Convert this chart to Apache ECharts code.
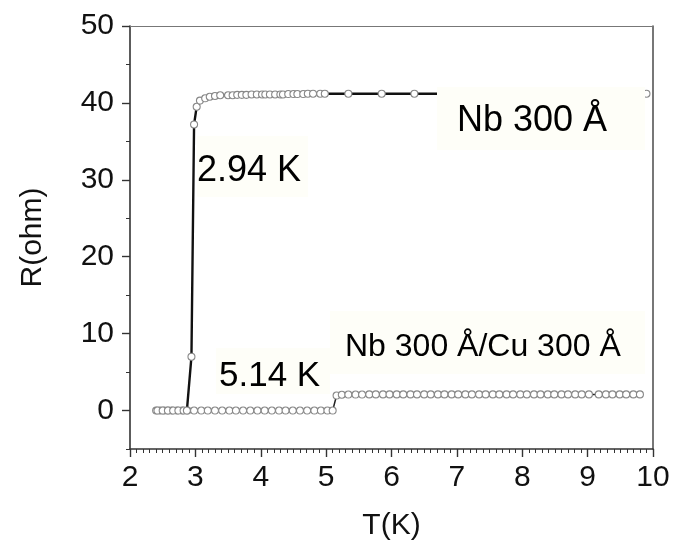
<!DOCTYPE html>
<html>
<head>
<meta charset="utf-8">
<script src="https://cdn.jsdelivr.net/npm/echarts@6/dist/echarts.min.js"></script>
<style>
  html, body { margin: 0; padding: 0; background: #ffffff; }
  #chart { width: 675px; height: 544px; }
</style>
</head>
<body>
<div id="chart"></div>
<script>
// ---- Data ----
var xTicks = [2, 3, 4, 5, 6, 7, 8, 9, 10];
var yTicks = [0, 10, 20, 30, 40, 50];
var yMinorTicks = [-5, 5, 15, 25, 35, 45];

// Nb 300 Å (black line)
var nbT = [2.42, 2.50, 2.58, 2.66, 2.74, 2.82, 2.87, 2.94, 2.98, 3.02, 3.07, 3.15, 3.22, 3.30, 3.38,
           3.50, 3.57, 3.64, 3.71, 3.78, 3.86, 3.94, 4.02, 4.07, 4.14, 4.22, 4.30, 4.34, 4.42, 4.50,
           4.56, 4.65, 4.72, 4.80, 4.91, 4.98, 5.34, 5.85, 6.35, 6.85, 7.35, 7.85, 8.35, 8.85, 9.35, 9.90];
var nbR = [0, 0, 0, 0, 0, 0, 0, 7.0, 37.2, 39.5, 40.3, 40.6, 40.8, 40.9, 41.0,
           41.0, 41.0, 41.05, 41.05, 41.05, 41.1, 41.1, 41.1, 41.1, 41.1, 41.1, 41.1, 41.1, 41.15, 41.15,
           41.15, 41.15, 41.2, 41.2, 41.2, 41.2, 41.2, 41.2, 41.2, 41.2, 41.2, 41.2, 41.2, 41.2, 41.2, 41.2];

// Nb 300 Å/Cu 300 Å (grey circles)
var nbCuT = [2.40, 2.46, 2.52, 2.58, 2.64, 2.72, 2.80, 2.88, 2.98, 3.09, 3.19, 3.30, 3.41, 3.52, 3.62,
             3.73, 3.84, 3.95, 4.06, 4.17, 4.28, 4.38, 4.49, 4.60, 4.71, 4.82, 4.92, 5.02, 5.10,
             5.16, 5.24, 5.34, 5.45, 5.55, 5.66, 5.76, 5.87, 5.97, 6.08, 6.18, 6.29, 6.39, 6.50, 6.60,
             6.71, 6.81, 6.92, 7.02, 7.13, 7.23, 7.34, 7.44, 7.55, 7.65, 7.76, 7.86, 7.97, 8.07, 8.18,
             8.28, 8.39, 8.49, 8.60, 8.70, 8.81, 8.91, 9.02, 9.17, 9.28, 9.38, 9.49, 9.59, 9.70, 9.80, 9.91];
var nbCuR = [0, 0, 0, 0, 0, 0, 0, 0, 0, 0, 0, 0, 0, 0, 0,
             0, 0, 0, 0, 0, 0, 0, 0, 0, 0, 0, 0, 0, 0,
             1.95, 2.05, 2.08, 2.08, 2.08, 2.1, 2.1, 2.1, 2.1, 2.1, 2.1, 2.1, 2.1, 2.1, 2.1,
             2.1, 2.1, 2.1, 2.1, 2.1, 2.1, 2.1, 2.1, 2.1, 2.1, 2.1, 2.1, 2.1, 2.1, 2.1,
             2.1, 2.1, 2.1, 2.1, 2.1, 2.1, 2.1, 2.1, 2.1, 2.1, 2.1, 2.1, 2.1, 2.1, 2.1];

var labels = ['2.94 K', 'Nb 300 Å', '5.14 K', 'Nb 300 Å/Cu 300 Å'];
var xName = 'T(K)';
var yName = 'R(ohm)';

// ---- Chart ----
var FONT = 'Liberation Sans, Arial, Helvetica, sans-serif';
function zip(a, b) { return a.map(function (v, i) { return [v, b[i]]; }); }

var chart = echarts.init(document.getElementById('chart'), null, { renderer: 'canvas' });
var axisColor = '#333333';
var boxFill = '#fefef8';

var option = {
  backgroundColor: '#ffffff',
  animation: false,
  grid: { left: 130, right: 22, top: 26, bottom: 95, containLabel: false, outerBoundsMode: 'none' },
  xAxis: [{
    type: 'value', min: xTicks[0], max: xTicks[xTicks.length - 1], interval: 1,
    name: xName, nameLocation: 'middle', nameGap: 62,
    nameTextStyle: { fontFamily: FONT, fontSize: 30, color: '#111' },
    axisLine: { show: true, onZero: false, lineStyle: { color: axisColor, width: 1.6 } },
    axisTick: { show: true, inside: false, length: 8, lineStyle: { color: axisColor, width: 1.4 } },
    minorTick: { show: true, splitNumber: 10, length: 4, lineStyle: { color: axisColor, width: 1 } },
    axisLabel: { fontFamily: FONT, fontSize: 30, color: '#111', margin: 14 },
    splitLine: { show: false }
  }, {
    type: 'value', position: 'top', min: xTicks[0], max: xTicks[xTicks.length - 1],
    axisLine: { show: true, onZero: false, lineStyle: { color: '#777', width: 1.2 } },
    axisTick: { show: false }, axisLabel: { show: false }, splitLine: { show: false }
  }],
  yAxis: [{
    type: 'value', min: -5, max: 50,
    name: yName, nameLocation: 'middle', nameGap: 82, nameRotate: 90,
    nameTextStyle: { fontFamily: FONT, fontSize: 30, color: '#111' },
    axisLine: { show: true, onZero: false, lineStyle: { color: axisColor, width: 1.6 } },
    axisTick: { show: true, inside: false, length: 8, customValues: yTicks, lineStyle: { color: axisColor, width: 1.4 } },
    axisLabel: { fontFamily: FONT, fontSize: 30, color: '#111', margin: 16, customValues: yTicks },
    splitLine: { show: false }
  }, {
    type: 'value', position: 'left', min: -5, max: 50,
    axisLine: { show: false },
    axisTick: { show: true, inside: false, length: 4, customValues: yMinorTicks, lineStyle: { color: axisColor, width: 1 } },
    axisLabel: { show: false }, splitLine: { show: false }
  }, {
    type: 'value', position: 'right', min: -5, max: 50,
    axisLine: { show: true, onZero: false, lineStyle: { color: '#555', width: 1.6 } },
    axisTick: { show: false }, axisLabel: { show: false }, splitLine: { show: false }
  }],
  series: [{
    name: 'Nb 300 Å/Cu 300 Å', type: 'line', data: zip(nbCuT, nbCuR),
    symbol: 'circle', symbolSize: 7, showAllSymbol: true,
    lineStyle: { color: '#222', width: 1.5 },
    itemStyle: { color: '#ffffff', borderColor: '#888888', borderWidth: 1.1 },
    z: 3
  }, {
    name: 'Nb 300 Å', type: 'line', data: zip(nbT, nbR),
    symbol: 'circle', symbolSize: 7, showAllSymbol: true,
    lineStyle: { color: '#111', width: 2.4 },
    itemStyle: { color: '#ffffff', borderColor: '#888888', borderWidth: 1.1 },
    z: 4
  }],
  graphic: [
    { type: 'rect', shape: { x: 197, y: 136, width: 111, height: 61 }, style: { fill: boxFill }, z: 10 },
    { type: 'text', x: 197, y: 189, style: { text: labels[0], font: '36px ' + FONT, fill: '#000', textVerticalAlign: 'bottom' }, z: 11 },
    { type: 'rect', shape: { x: 437, y: 87, width: 208, height: 63 }, style: { fill: boxFill }, z: 10 },
    { type: 'text', x: 457, y: 139, style: { text: labels[1], font: '36px ' + FONT, fill: '#000', textVerticalAlign: 'bottom' }, z: 11 },
    { type: 'rect', shape: { x: 216, y: 348, width: 114, height: 46 }, style: { fill: boxFill }, z: 10 },
    { type: 'text', x: 219, y: 394, style: { text: labels[2], font: '35px ' + FONT, fill: '#000', textVerticalAlign: 'bottom' }, z: 11 },
    { type: 'rect', shape: { x: 330, y: 311, width: 315, height: 63 }, style: { fill: boxFill }, z: 10 },
    { type: 'text', x: 345, y: 363, style: { text: labels[3], font: '32px ' + FONT, fill: '#000', textVerticalAlign: 'bottom' }, z: 11 }
  ]
};
chart.setOption(option);
</script>
</body>
</html>
